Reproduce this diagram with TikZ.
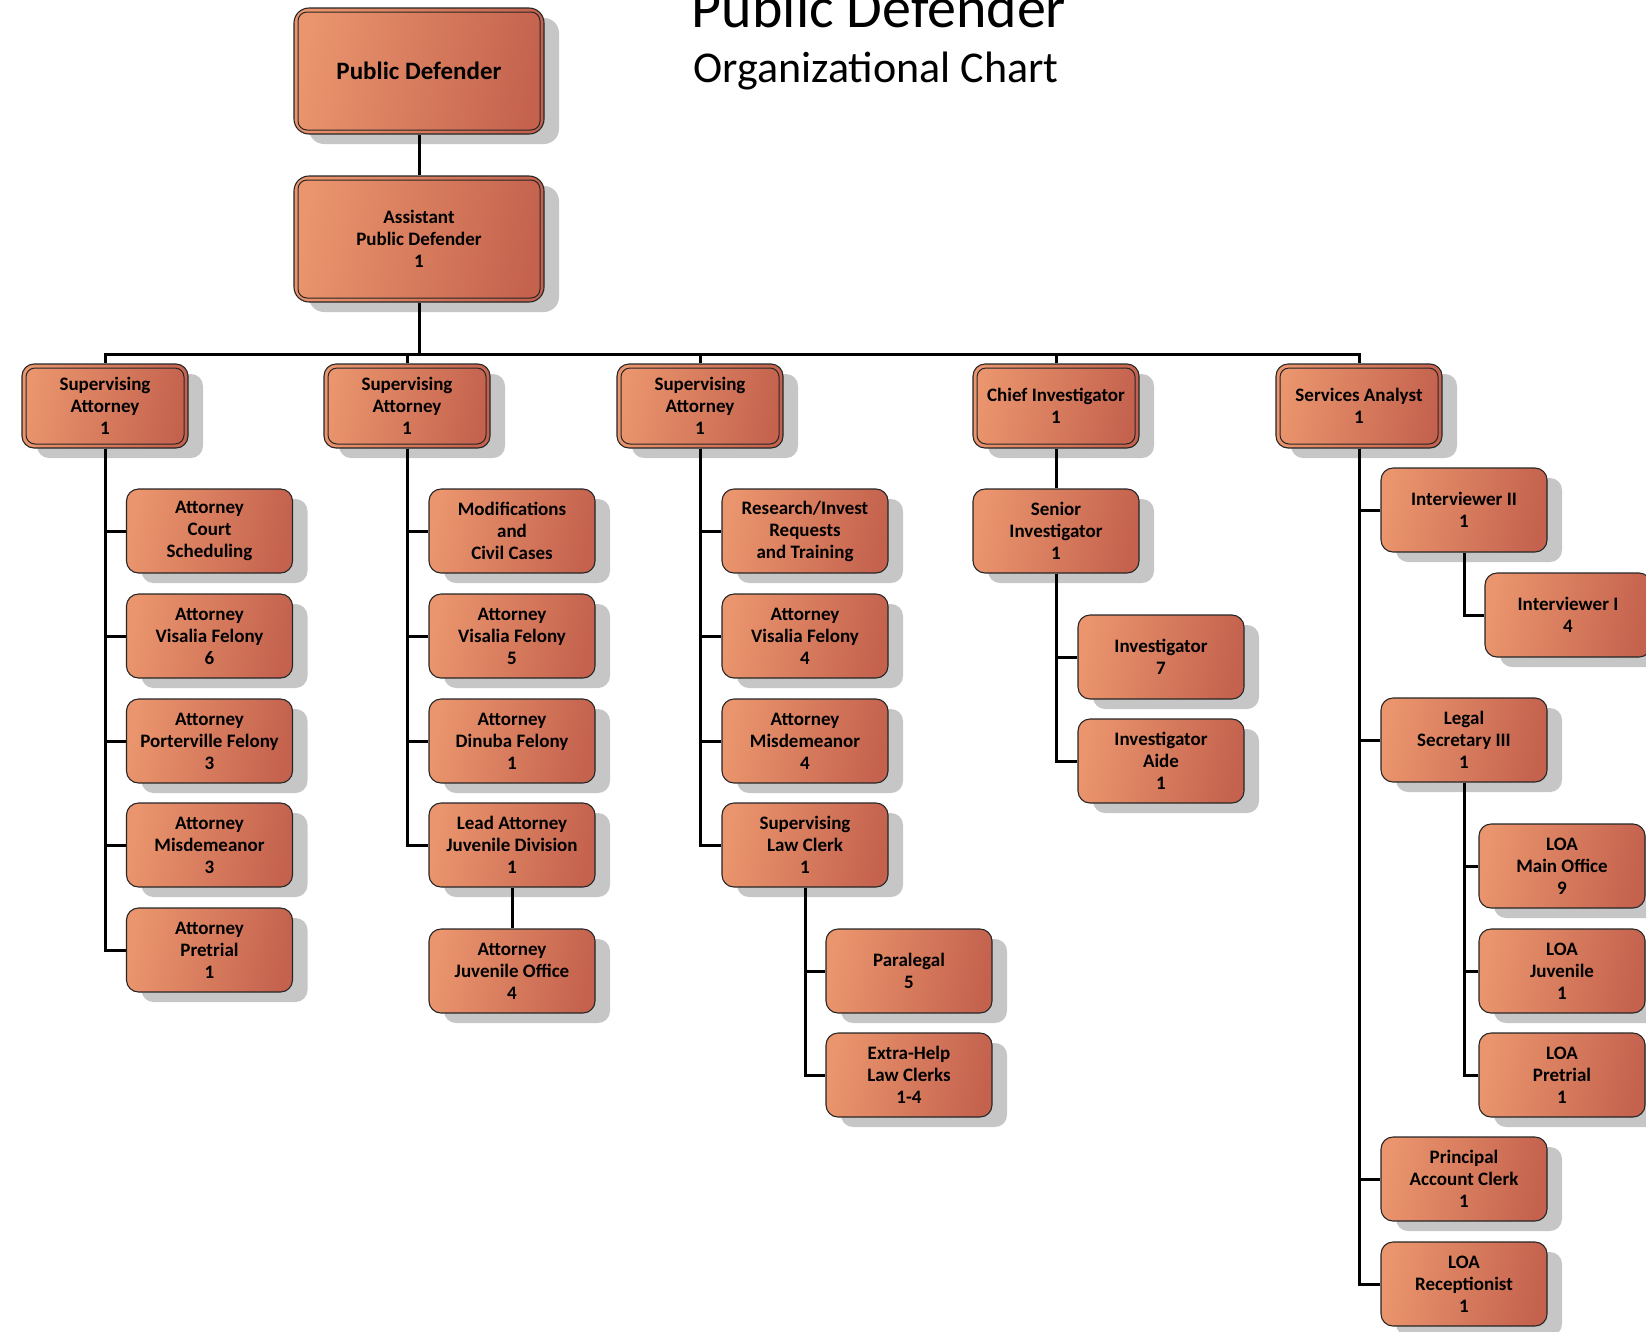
\documentclass[tikz,border=0pt]{standalone}
\usepackage{fontspec}
\setmainfont{Carlito}
\usepackage{tikz}
\usetikzlibrary{shapes,arrows,positioning,calc,shadows}
\definecolor{boxlight}{RGB}{234,149,109}
\definecolor{boxdark}{RGB}{196,98,78}
\definecolor{shadowgray}{RGB}{198,198,198}

\begin{document}
\begin{tikzpicture}[x=1pt,y=-1pt,
    post/.style={draw=black!85, line width=1.1pt, rounded corners=12pt,
        minimum width=166pt, minimum height=84pt, inner sep=2pt, align=center,
        top color=boxlight, bottom color=boxdark, shading angle=80,
        drop shadow={shadow xshift=15pt, shadow yshift=-10pt, fill=shadowgray, opacity=1},
        font=\bfseries\fontsize{19}{22}\selectfont},
    lead/.style={post, path picture={
        \draw[black!85, line width=1pt, rounded corners=9pt]
            ([shift={(4pt,4pt)}]path picture bounding box.south west) rectangle
            ([shift={(-4pt,-4pt)}]path picture bounding box.north east);}},
    chief/.style={lead, minimum width=250pt, minimum height=126pt, rounded corners=15pt},
    link/.style={line width=3pt}]
    \useasboundingbox (0,0) rectangle (1646,1331);
    \clip (0,0) rectangle (1646,1331);

    % title
    \node[anchor=base, inner sep=0pt, font=\fontsize{58}{58}\selectfont] (ttl) at (879,27) {Public Defender};
    \node[anchor=base, inner sep=0pt, font=\fontsize{44}{44}\selectfont] (subttl) at (876,82) {Organizational Chart};

    % top of the office
    \node[chief, font=\bfseries\fontsize{25}{28}\selectfont] (pd) at (419,71) {Public Defender};
    \node[chief] (apd) at (419,239) {Assistant\\Public Defender\\1};

    \node[lead] (sup1) at (105,406) {Supervising\\Attorney\\1};
    \node[lead] (sup2) at (407,406) {Supervising\\Attorney\\1};
    \node[lead] (sup3) at (700,406) {Supervising\\Attorney\\1};
    \node[lead] (chinv) at (1056,406) {Chief Investigator\\1};
    \node[lead] (svcan) at (1359,406) {Services Analyst\\1};

    % first attorney group
    \node[post] (crt) at (209.5,531) {Attorney\\Court\\Scheduling};
    \node[post] (vis1) at (209.5,636) {Attorney\\Visalia Felony\\6};
    \node[post] (port) at (209.5,741) {Attorney\\Porterville Felony\\3};
    \node[post] (misd1) at (209.5,845) {Attorney\\Misdemeanor\\3};
    \node[post] (pretr) at (209.5,950) {Attorney\\Pretrial\\1};

    % second attorney group
    \node[post] (modif) at (512,531) {Modifications\\and\\Civil Cases};
    \node[post] (vis2) at (512,636) {Attorney\\Visalia Felony\\5};
    \node[post] (dinuba) at (512,741) {Attorney\\Dinuba Felony\\1};
    \node[post] (juvlead) at (512,845) {Lead Attorney\\Juvenile Division\\1};
    \node[post] (juvoff) at (512,971) {Attorney\\Juvenile Office\\4};

    % third attorney group
    \node[post] (resrch) at (805,531) {Research/Invest\\Requests\\and Training};
    \node[post] (vis3) at (805,636) {Attorney\\Visalia Felony\\4};
    \node[post] (misd3) at (805,741) {Attorney\\Misdemeanor\\4};
    \node[post] (lawclk) at (805,845) {Supervising\\Law Clerk\\1};
    \node[post] (paraleg) at (909,971) {Paralegal\\5};
    \node[post] (xhelp) at (909,1075) {Extra-Help\\Law Clerks\\1-4};

    % investigations
    \node[post] (seninv) at (1056,531) {Senior\\Investigator\\1};
    \node[post] (invest) at (1161,657) {Investigator\\7};
    \node[post] (invaide) at (1161,761) {Investigator\\Aide\\1};

    % support staff
    \node[post] (intv2) at (1464,510) {Interviewer II\\1};
    \node[post] (intv1) at (1568,615) {Interviewer I\\4};
    \node[post] (legsec) at (1464,740) {Legal\\Secretary III\\1};
    \node[post] (loamain) at (1562,866) {LOA\\Main Office\\9};
    \node[post] (loajuv) at (1562,971) {LOA\\Juvenile\\1};
    \node[post] (loapre) at (1562,1075) {LOA\\Pretrial\\1};
    \node[post] (acctclk) at (1464,1179) {Principal\\Account Clerk\\1};
    \node[post] (recep) at (1464,1284) {LOA\\Receptionist\\1};

    % connectors
    \coordinate (bus) at (0,354);
    \draw[link] (pd) -- (apd);
    \draw[link] (apd) -- (apd |- bus);
    \draw[link] (sup1) |- (bus -| svcan) -- (svcan);
    \foreach \n in {sup2,sup3,chinv}
        \draw[link] (\n) -- (\n |- bus);

    \foreach \n in {crt,vis1,port,misd1,pretr}
        \draw[link] (sup1) |- (\n);
    \foreach \n in {modif,vis2,dinuba,juvlead}
        \draw[link] (sup2) |- (\n);
    \draw[link] (juvlead) -- (juvoff);
    \foreach \n in {resrch,vis3,misd3,lawclk}
        \draw[link] (sup3) |- (\n);
    \foreach \n in {paraleg,xhelp}
        \draw[link] (lawclk) |- (\n);
    \draw[link] (chinv) -- (seninv);
    \foreach \n in {invest,invaide}
        \draw[link] (seninv) |- (\n);
    \foreach \n in {intv2,legsec,acctclk,recep}
        \draw[link] (svcan) |- (\n);
    \draw[link] (intv2) |- (intv1);
    \foreach \n in {loamain,loajuv,loapre}
        \draw[link] (legsec) |- (\n);
\end{tikzpicture}
\end{document}
